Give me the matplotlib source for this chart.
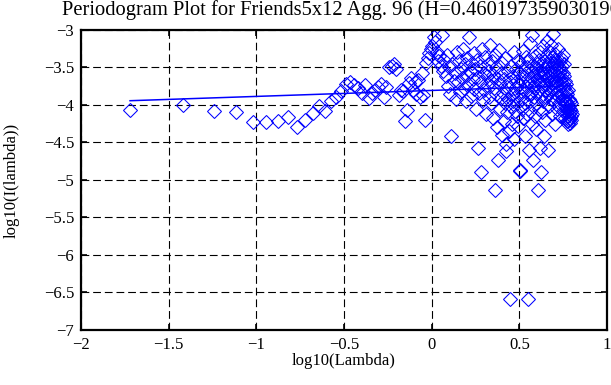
import matplotlib
matplotlib.use('Agg')
import matplotlib.pyplot as plt
import numpy as np

# periodogram values log10(I(lambda)) for frequency index k = 1..330
log_I = [
    -4.07, -4.00, -4.08, -4.10, -4.23, -4.23, -4.21, -4.16, -4.29, -4.20,
    -4.11, -4.02, -4.08, -3.95, -3.89, -3.82, -3.72, -3.69, -3.73, -3.78,
    -3.84, -3.74, -3.91, -3.84, -3.80, -3.76, -3.72, -3.89, -3.76, -3.50,
    -3.48, -3.45, -3.52, -3.87, -3.80, -3.82, -4.22, -4.07, -3.71, -3.64,
    -3.80, -3.70, -3.85, -3.67, -3.89, -3.58, -3.87, -4.20, -3.44, -3.38,
    -3.31, -3.25, -3.22, -3.09, -3.16, -3.30, -3.42, -3.35, -3.48, -3.07,
    -3.55, -3.40, -3.62, -3.33, -3.75, -3.50, -3.86, -4.42, -3.45, -3.68,
    -3.58, -3.92, -3.30, -3.70, -3.41, -3.83, -3.52, -3.64, -3.26, -3.77,
    -3.46, -3.95, -3.60, -3.38, -3.72, -3.09, -3.55, -3.88, -3.44, -3.66,
    -3.31, -3.79, -3.52, -4.05, -3.40, -4.57, -3.63, -3.84, -3.48, -4.89,
    -3.70, -3.25, -3.93, -3.57, -3.80, -3.36, -4.12, -3.62, -3.74, -3.46,
    -3.89, -3.55, -3.20, -3.97, -3.68, -3.42, -4.18, -3.60, -3.78, -3.33,
    -5.14, -3.86, -3.50, -4.30, -4.73, -3.65, -3.27, -4.05, -3.72, -3.91,
    -3.58, -4.40, -3.44, -3.84, -4.22, -3.66, -3.98, -3.38, -4.52, -4.62,
    -3.76, -4.10, -3.55, -3.92, -4.35, -6.59, -3.70, -4.02, -3.48, -3.85,
    -4.25, -3.62, -3.95, -3.30, -4.45, -3.78, -4.08, -3.52, -3.88, -4.15,
    -3.68, -3.97, -3.40, -4.28, -3.74, -3.58, -4.87, -4.88, -3.82, -3.45,
    -4.05, -3.66, -3.92, -3.28, -4.18, -3.55, -3.80, -4.42, -3.62, -3.98,
    -3.36, -3.75, -4.12, -3.50, -6.59, -3.86, -3.42, -4.60, -3.70, -3.95,
    -3.18, -4.08, -3.64, -3.84, -3.07, -4.25, -3.55, -3.76, -4.73, -3.48,
    -3.90, -3.60, -4.15, -3.35, -3.72, -3.98, -3.52, -4.32, -3.66, -3.45,
    -5.14, -3.82, -3.58, -4.05, -3.40, -3.70, -4.58, -3.62, -3.30, -3.88,
    -3.55, -4.89, -3.75, -3.48, -4.10, -3.68, -3.22, -3.95, -3.60, -4.42,
    -3.42, -3.80, -3.58, -4.20, -3.35, -3.72, -3.90, -3.50, -3.15, -3.66,
    -4.60, -3.45, -3.85, -3.62, -3.28, -4.02, -3.55, -3.74, -3.40, -3.92,
    -3.60, -3.20, -3.82, -3.48, -4.12, -3.66, -3.36, -3.78, -3.55, -3.05,
    -3.95, -3.44, -3.70, -3.58, -4.25, -3.32, -3.86, -3.52, -3.68, -3.40,
    -3.76, -3.60, -4.05, -3.46, -3.88, -3.26, -3.62, -3.74, -3.50, -3.98,
    -3.56, -3.42, -3.80, -3.65, -4.15, -3.38, -3.70, -3.55, -3.92, -3.48,
    -3.64, -3.85, -3.34, -4.08, -3.58, -3.72, -3.46, -3.96, -3.62, -3.78,
    -3.90, -4.02, -3.68, -4.18, -3.82, -3.95, -4.10, -3.72, -4.22, -3.86,
    -4.05, -3.98, -4.15, -3.80, -4.25, -4.08, -3.92, -4.12, -4.20, -4.02,
    -4.18, -3.95, -4.10, -4.24, -4.05, -4.15, -3.98, -4.20, -4.08, -4.12,
]
n_series = 330          # series length used for the Fourier frequencies
H = 0.460197359030196
fit_slope = 1 - 2 * H   # periodogram slope 1-2H
fit_intercept = -3.806

x_ticks = [-2, -1.5, -1, -0.5, 0, 0.5, 1]
y_ticks = [-7, -6.5, -6, -5.5, -5, -4.5, -4, -3.5, -3]

plt.rcParams['font.family'] = ['Liberation Serif', 'DejaVu Serif']


def fmt(t):
    return ('%g' % t).replace('-', '\u2212')


def main():
    k = np.arange(1, len(log_I) + 1)
    log_lambda = np.log10(2 * np.pi * k / n_series)

    fig = plt.figure(figsize=(6.11, 3.85), dpi=100)
    ax = fig.add_axes([0.1326, 0.1429, 0.8609, 0.7792])

    ax.plot(log_lambda, log_I, linestyle='none', marker='D', markersize=7.4,
            markerfacecolor='none', markeredgecolor='#0000ff', markeredgewidth=0.75)
    fx = np.array([log_lambda[0], log_lambda[-1]])
    ax.plot(fx, fit_intercept + fit_slope * fx, color='#0000ff', linewidth=1.1)

    ax.set_xlim(-2, 1)
    ax.set_ylim(-7, -3)
    ax.set_xticks(x_ticks)
    ax.set_yticks(y_ticks)
    ax.set_xticklabels([fmt(t) for t in x_ticks])
    ax.set_yticklabels([fmt(t) for t in y_ticks])
    ax.grid(True, color='black', linestyle=(0, (7, 3.5)), linewidth=0.8)
    ax.tick_params(axis='both', direction='in', length=4, width=1.2,
                   top=True, right=True, labelsize=12, pad=5)
    for sp in ax.spines.values():
        sp.set_linewidth(1.6)

    ax.set_xlabel('log10(Lambda)', fontsize=12, labelpad=0)
    ax.set_ylabel('log10(I(lambda))', fontsize=12, labelpad=17)
    # the title runs past the right edge of the figure, as in the original
    ax.set_title('Periodogram Plot for Friends5x12 Agg. 96 (H=%.15g)' % H,
                 fontsize=14.8, pad=11)

    fig.savefig('out.png', dpi=100)


if __name__ == '__main__':
    main()
